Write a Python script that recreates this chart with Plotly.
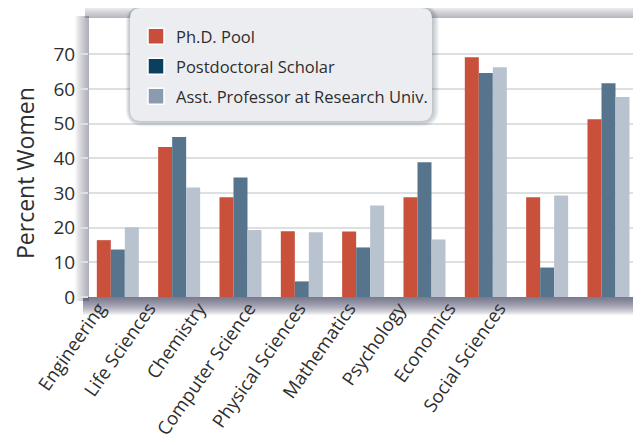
import plotly.graph_objects as go

categories = ["Engineering", "Life Sciences", "Chemistry", "Computer Science",
              "Physical Sciences", "Mathematics", "Psychology", "Economics",
              "Social Sciences"]
phd_pool = [16.4, 43.3, 28.8, 19.0, 18.9, 28.8, 69.2, 28.8, 51.3]
postdoc = [13.7, 46.2, 34.5, 4.5, 14.3, 38.9, 64.6, 8.5, 61.7]
asst_prof = [20.1, 31.6, 19.3, 18.7, 26.4, 16.6, 66.3, 29.3, 57.7]
series_names = ["Ph.D. Pool", "Postdoctoral Scholar", "Asst. Professor at Research Univ."]
y_ticks = [0, 10, 20, 30, 40, 50, 60, 70]
y_title = "Percent Women"

bar_colors = ["#C9503B", "#56758D", "#B8C3CF"]
legend_colors = ["#C84D3A", "#0B3F5E", "#8A9BB0"]

OFF = 8  # page body margin
W, H = 641 - OFF, 445 - OFF
ML, MR, MT, MB = 89 - OFF, 0, 18 - OFF, 148
PW, PH = W - ML - MR, H - MT - MB
FONT = "Open Sans"
TXT = "#2E2E2E"


def px(x):
    # x in page pixels -> paper
    return (x - OFF - ML) / PW


def py(y):
    return (H - MB - (y - OFF)) / PH


fig = go.Figure()
for vals, name, col in zip([phd_pool, postdoc, asst_prof], series_names, bar_colors):
    fig.add_trace(go.Bar(x=categories, y=vals, name=name, marker_color=col,
                         marker_line_width=0, showlegend=False, xaxis="x", yaxis="y"))
for i, (name, col) in enumerate(zip(series_names, legend_colors)):
    fig.add_trace(go.Scatter(x=[None], y=[None], mode="markers", name=name,
                             legendgroup="g%d" % i,
                             marker=dict(symbol="square", size=16, color=col,
                                         line=dict(color="white", width=1.5))))
# carrier for the label axis
fig.add_trace(go.Scatter(x=[None], y=[None], xaxis="x2", yaxis="y", showlegend=False,
                         hoverinfo="skip", mode="markers"))

shapes = []
n = 14
for k in range(1, n + 1):
    shapes.append(dict(type="rect", xref="paper", yref="paper", layer="below",
                       x0=px(89 - k), x1=px(89), y0=py(301), y1=py(16),
                       fillcolor="#5A607A", opacity=0.042, line_width=0))
for k in range(1, 13):
    shapes.append(dict(type="rect", xref="paper", yref="paper", layer="below",
                       x0=px(85), x1=1, y0=py(18), y1=py(18 - k),
                       fillcolor="#5A607A", opacity=0.045, line_width=0))
for k in range(1, 19):
    shapes.append(dict(type="rect", xref="paper", yref="paper", layer="below",
                       x0=px(83), x1=1, y0=py(297 + k), y1=py(297),
                       fillcolor="#4A5070", opacity=0.065, line_width=0))


def rrect(x0, y0, x1, y1, r):
    p = []
    p.append("M %f,%f" % (px(x0 + r), py(y0)))
    p.append("L %f,%f" % (px(x1 - r), py(y0)))
    p.append("Q %f,%f %f,%f" % (px(x1), py(y0), px(x1), py(y0 + r)))
    p.append("L %f,%f" % (px(x1), py(y1 - r)))
    p.append("Q %f,%f %f,%f" % (px(x1), py(y1), px(x1 - r), py(y1)))
    p.append("L %f,%f" % (px(x0 + r), py(y1)))
    p.append("Q %f,%f %f,%f" % (px(x0), py(y1), px(x0), py(y1 - r)))
    p.append("L %f,%f" % (px(x0), py(y0 + r)))
    p.append("Q %f,%f %f,%f" % (px(x0), py(y0), px(x0 + r), py(y0)))
    p.append("Z")
    return " ".join(p)


LX0, LY0, LX1, LY1 = 130, 8, 432, 121
for k in range(1, 8):
    shapes.append(dict(type="path", xref="paper", yref="paper", layer="above",
                       path=rrect(LX0 - k * 0.6, LY0 - k * 0.4, LX1 + k, LY1 + k * 0.8, 11 + k),
                       fillcolor="#40465E", opacity=0.05, line_width=0))
shapes.append(dict(type="path", xref="paper", yref="paper", layer="above",
                   path=rrect(LX0, LY0, LX1, LY1, 11),
                   fillcolor="#ECEDF1", line_width=0))

fig.update_layout(
    width=W, height=H,
    margin=dict(l=ML, r=MR, t=MT, b=MB, autoexpand=False),
    paper_bgcolor="white", plot_bgcolor="white",
    barmode="group", bargap=0.315, bargroupgap=0,
    font=dict(family=FONT, color=TXT),
    shapes=shapes,
    annotations=[dict(text=y_title, xref="paper", yref="paper", x=px(25), y=py(173),
                      xanchor="center", yanchor="middle", textangle=-90, showarrow=False,
                      font=dict(size=23, color=TXT, family=FONT))],
    legend=dict(x=px(136), y=py(19), xanchor="left", yanchor="top",
                bgcolor="rgba(0,0,0,0)", borderwidth=0,
                font=dict(size=16.5, family=FONT, color=TXT),
                tracegroupgap=5.5, traceorder="grouped"),
    xaxis=dict(range=[-0.47, 8.53], showgrid=False, zeroline=False, showline=False,
               showticklabels=False, ticks=""),
    xaxis2=dict(overlaying="x", anchor="y", side="bottom", range=[-0.2, 10.84],
                tickmode="array", tickvals=list(range(len(categories))), ticktext=categories,
                showgrid=False, zeroline=False, showline=False, ticks="",
                ticklabelstandoff=-4,
                tickangle=-55, tickfont=dict(size=18.5, color=TXT)),
    yaxis=dict(range=[0, 80.5], tickvals=y_ticks, showgrid=True, gridcolor="#DCE0DF",
               gridwidth=1.5, zeroline=False, showline=False, ticks="outside",
               ticklen=9, tickcolor="#DCE0DF", tickwidth=1.5,
               tickfont=dict(size=19, color=TXT)),
)

fig.write_html("out.html")
